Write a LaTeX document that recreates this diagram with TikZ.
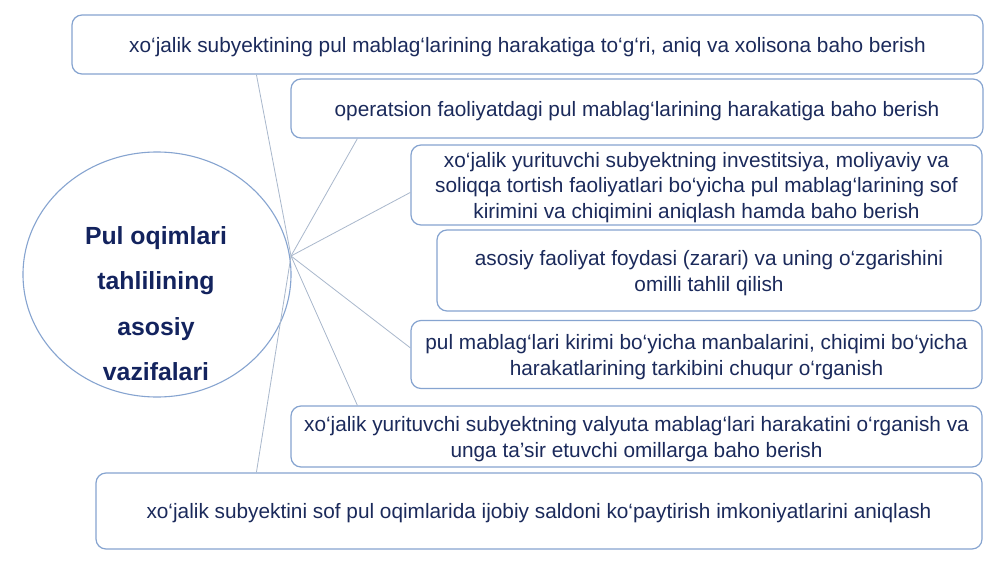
\documentclass[tikz,border=0pt]{standalone}
\usepackage{fontspec}
\setmainfont{Liberation Sans}
\usetikzlibrary{shapes.geometric,calc}
\definecolor{navy}{HTML}{1B2A5B}
\definecolor{navyb}{HTML}{13235E}
\definecolor{bord}{HTML}{86A4D0}
\definecolor{conn}{HTML}{A9B8CC}
\tikzset{
  box/.style={draw=bord, line width=1.2pt, rounded corners=10pt, inner sep=0pt},
  boxtext/.style={align=center, inner sep=0pt, text=navy, font=\fontsize{20.8}{25.5}\selectfont},
  hubbox/.style={draw=bord, line width=1.1pt, ellipse, inner sep=0pt},
  conline/.style={draw=conn, line width=0.8pt},
}
\begin{document}
\begin{tikzpicture}[x=1pt,y=-1pt]
\useasboundingbox[fill=white] (0,0) rectangle (1000,562);
\node[box, minimum width=911pt, minimum height=59pt] (b1) at (527.5,44.5) {};
\node[boxtext] (t1) at ([yshift=-2.5pt]b1.center)
  {xo‘jalik subyektining pul mablag‘larining harakatiga to‘g‘ri, aniq va xolisona baho berish};
\node[box, minimum width=692pt, minimum height=59pt] (b2) at (637,108.5) {};
\node[boxtext] (t2) at ([yshift=-2.5pt]b2.center)
  {operatsion faoliyatdagi pul mablag‘larining harakatiga baho berish};
\node[box, minimum width=571pt, minimum height=80pt] (b3) at (696.5,185) {};
\node[boxtext] (t3) at ([yshift=-2.5pt]b3.center)
  {xo‘jalik yurituvchi subyektning investitsiya, moliyaviy va\\soliqqa tortish faoliyatlari bo‘yicha pul mablag‘larining sof\\kirimini va chiqimini aniqlash hamda baho berish};
\node[box, minimum width=544pt, minimum height=81pt] (b4) at (709,270.5) {};
\node[boxtext] (t4) at ([yshift=-2.5pt]b4.center)
  {asosiy faoliyat foydasi (zarari) va uning o‘zgarishini\\omilli tahlil qilish};
\node[box, minimum width=571pt, minimum height=68pt] (b5) at (696.5,354.5) {};
\node[boxtext] (t5) at ([yshift=-2.5pt]b5.center)
  {pul mablag‘lari kirimi bo‘yicha manbalarini, chiqimi bo‘yicha\\harakatlarining tarkibini chuqur o‘rganish};
\node[box, minimum width=691pt, minimum height=61pt] (b6) at (636.5,436.5) {};
\node[boxtext] (t6) at ([yshift=-2.5pt]b6.center)
  {xo‘jalik yurituvchi subyektning valyuta mablag‘lari harakatini o‘rganish va\\unga ta’sir etuvchi omillarga baho berish};
\node[box, minimum width=886pt, minimum height=76pt] (b7) at (539,511) {};
\node[boxtext] (t7) at ([yshift=-2.5pt]b7.center)
  {xo‘jalik subyektini sof pul oqimlarida ijobiy saldoni ko‘paytirish imkoniyatlarini aniqlash};
\node[hubbox, minimum width=268pt, minimum height=245pt] (c) at (157,274.5) {};
\node[align=center, text=navyb, font=\fontsize{24.8}{45.3}\selectfont\bfseries] (ct) at (156,303.5)
  {Pul oqimlari\\tahlilining\\asosiy\\vazifalari};
\coordinate (hub) at (291,256);
\coordinate (e1) at ($(b1.south west)+(185,0)$);
\coordinate (e2) at ($(b2.south west)+(67,0)$);
\coordinate (e3) at ($(b3.north west)+(0,48)$);
\coordinate (e5) at ($(b5.north west)+(0,28)$);
\coordinate (e6) at ($(b6.north west)+(67,0)$);
\coordinate (e7) at ($(b7.north west)+(161,0)$);
\foreach \e in {e1,e2,e3,e5,e6,e7} \draw[conline] (hub) -- (\e);
\end{tikzpicture}
\end{document}
